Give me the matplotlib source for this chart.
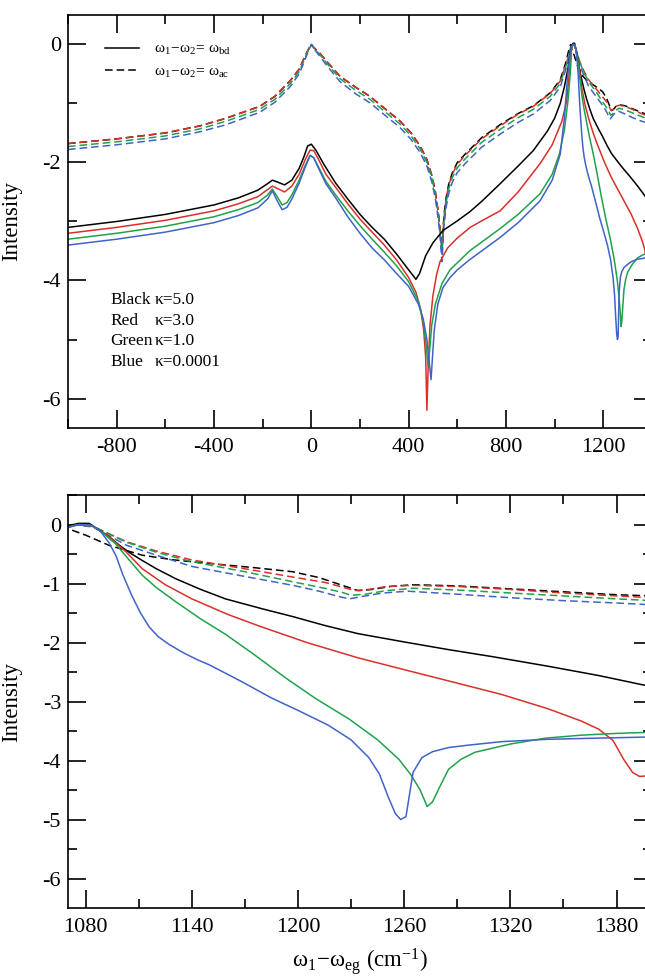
import numpy as np
import matplotlib
matplotlib.use("Agg")
import matplotlib.pyplot as plt

plt.rcParams['font.family'] = ['Liberation Serif', 'DejaVu Serif']
plt.rcParams['mathtext.fontset'] = 'custom'
plt.rcParams['mathtext.rm'] = 'Liberation Serif'
plt.rcParams['mathtext.it'] = 'Liberation Serif'
plt.rcParams['axes.unicode_minus'] = False

# solid curves: w1-w2 = w_bd
bd_black_x = [-1000, -800, -600, -400, -300, -220, -180, -160, -140, -110, -80, -50, -30, -15, 0, 20, 50, 100, 150, 200,
              250, 300, 350, 400, 430, 445, 470, 500, 542, 600, 653, 700, 776, 850, 912, 970, 1000, 1023, 1040, 1055,
              1064, 1070, 1076, 1082, 1088, 1093, 1099, 1105, 1112, 1120, 1131, 1145, 1159, 1180, 1197, 1215, 1234,
              1260, 1285, 1310, 1341, 1370, 1400]
bd_black_y = [-3.1, -3.0, -2.88, -2.72, -2.6, -2.47, -2.36, -2.3, -2.33, -2.38, -2.3, -2.1, -1.9, -1.72, -1.69, -1.8,
              -2.02, -2.35, -2.62, -2.88, -3.1, -3.3, -3.55, -3.82, -3.98, -3.88, -3.58, -3.36, -3.15, -2.99, -2.83,
              -2.66, -2.36, -2.06, -1.8, -1.47, -1.25, -1.0, -0.72, -0.4, -0.15, -0.02, 0.02, 0.02, -0.1, -0.2, -0.35,
              -0.48, -0.61, -0.75, -0.92, -1.1, -1.26, -1.43, -1.56, -1.71, -1.85, -1.99, -2.12, -2.24, -2.4, -2.56,
              -2.75]

bd_red_x = [-1000, -800, -600, -400, -300, -220, -180, -160, -140, -110, -80, -50, -25, -5, 10, 30, 60, 100, 150, 200,
            250, 300, 350, 400, 430, 450, 462, 470, 475, 480, 488, 500, 515, 529, 560, 600, 653, 700, 776, 850, 940,
            990, 1030, 1050, 1062, 1070, 1076, 1084, 1093, 1103, 1112, 1125, 1140, 1160, 1178, 1205, 1234, 1260, 1285,
            1315, 1341, 1360, 1370, 1378, 1384, 1389, 1393, 1397, 1400]
bd_red_y = [-3.2, -3.1, -2.98, -2.82, -2.7, -2.58, -2.46, -2.4, -2.44, -2.5, -2.4, -2.2, -1.95, -1.79, -1.8, -1.95,
            -2.2, -2.42, -2.7, -2.96, -3.18, -3.4, -3.65, -3.95, -4.2, -4.5, -4.85, -5.3, -6.2, -5.5, -4.75, -4.25,
            -3.9, -3.68, -3.45, -3.28, -3.1, -2.99, -2.82, -2.5, -2.02, -1.7, -1.3, -0.95, -0.4, -0.05, 0, -0.03,
            -0.2, -0.47, -0.75, -1.02, -1.26, -1.52, -1.72, -2.0, -2.26, -2.46, -2.65, -2.88, -3.12, -3.33, -3.47,
            -3.66, -3.98, -4.2, -4.27, -4.26, -4.25]

bd_green_x = [-1000, -800, -600, -400, -300, -220, -180, -160, -140, -120, -100, -80, -50, -25, -5, 10, 30, 60, 100,
              150, 200, 250, 300, 350, 400, 440, 460, 472, 480, 486, 495, 510, 537, 570, 600, 650, 700, 776, 850, 940,
              990, 1020, 1040, 1055, 1065, 1070, 1076, 1084, 1090, 1097, 1104, 1112, 1120, 1131, 1145, 1159, 1175, 1193,
              1210, 1229, 1245, 1257, 1264, 1269, 1273, 1276, 1280, 1285, 1292, 1300, 1320, 1340, 1360, 1380, 1400]
bd_green_y = [-3.3, -3.2, -3.08, -2.92, -2.8, -2.68, -2.55, -2.45, -2.58, -2.72, -2.68, -2.55, -2.3, -2.05, -1.88,
              -1.92, -2.08, -2.32, -2.55, -2.82, -3.07, -3.3, -3.52, -3.75, -4.02, -4.35, -4.7, -5.1, -5.45, -5.2,
              -4.75, -4.4, -4.05, -3.82, -3.7, -3.5, -3.35, -3.12, -2.88, -2.53, -2.2, -1.85, -1.45, -0.95, -0.45,
              -0.05, 0, -0.02, -0.15, -0.33, -0.58, -0.86, -1.07, -1.31, -1.6, -1.86, -2.2, -2.6, -2.95, -3.3,
              -3.65, -3.98, -4.25, -4.5, -4.78, -4.7, -4.45, -4.15, -3.98, -3.86, -3.72, -3.62, -3.57, -3.54, -3.52]

bd_blue_x = [-1000, -800, -600, -400, -300, -220, -180, -160, -140, -120, -100, -80, -50, -25, -5, 10, 30, 60, 100,
             150, 200, 250, 300, 350, 400, 440, 460, 475, 485, 492, 498, 505, 520, 541, 570, 600, 650, 700, 776, 850,
             940, 990, 1023, 1040, 1052, 1062, 1070, 1076, 1082, 1088, 1093, 1097, 1101, 1106, 1111, 1116, 1121, 1127,
             1135, 1143, 1150, 1168, 1185, 1200, 1217, 1230, 1240, 1246, 1251, 1255, 1258, 1261, 1265, 1270, 1276,
             1285, 1296, 1315, 1341, 1370, 1400]
bd_blue_y = [-3.4, -3.3, -3.18, -3.02, -2.9, -2.77, -2.62, -2.48, -2.65, -2.8, -2.76, -2.62, -2.35, -2.08, -1.88,
             -1.92, -2.1, -2.36, -2.6, -2.92, -3.2, -3.45, -3.65, -3.88, -4.1, -4.4, -4.65, -5.0, -5.4, -5.68, -5.3,
             -4.85, -4.4, -4.12, -3.95, -3.82, -3.65, -3.5, -3.27, -3.02, -2.65, -2.3, -1.86, -1.25, -0.6, -0.2, -0.04,
             0, 0, -0.1, -0.3, -0.52, -0.85, -1.2, -1.5, -1.74, -1.9, -2.03, -2.17, -2.29, -2.38, -2.66, -2.94, -3.15,
             -3.4, -3.65, -3.95, -4.23, -4.62, -4.9, -5.0, -4.95, -4.2, -3.95, -3.85, -3.78, -3.74, -3.68, -3.64,
             -3.62, -3.6]

# dashed curves: w1-w2 = w_ac
ac_black_x = [-1000, -800, -600, -458, -350, -212, -150, -88, -50, -26, -10, 0, 10, 35, 70, 118, 180, 241, 300, 365,
              410, 447, 475, 496, 510, 521, 530, 537, 545, 554, 565, 579, 600, 632, 700, 776, 850, 912, 982, 1023,
              1045, 1058, 1066, 1070, 1080, 1093, 1112, 1130, 1150, 1175, 1197, 1212, 1225, 1234, 1242, 1252, 1265,
              1290, 1320, 1350, 1380, 1400]
ac_black_y = [-1.68, -1.6, -1.5, -1.38, -1.25, -1.05, -0.88, -0.62, -0.42, -0.2, -0.07, 0, -0.05, -0.15, -0.32, -0.54,
              -0.72, -0.88, -1.08, -1.3, -1.5, -1.72, -1.95, -2.23, -2.5, -2.82, -3.15, -3.45, -2.9, -2.6, -2.36, -2.18,
              -2.0, -1.86, -1.58, -1.36, -1.17, -1.04, -0.82, -0.6, -0.32, -0.1, 0, -0.07, -0.18, -0.35, -0.52, -0.6,
              -0.66, -0.73, -0.8, -0.9, -1.03, -1.12, -1.1, -1.05, -1.02, -1.04, -1.09, -1.14, -1.19, -1.21]

ac_red_x = [-1000, -800, -600, -458, -350, -212, -150, -88, -50, -26, -10, 0, 10, 35, 70, 118, 180, 241, 300, 365,
            410, 447, 475, 496, 510, 521, 530, 537, 545, 554, 565, 579, 600, 632, 700, 776, 850, 912, 982, 1023, 1052,
            1065, 1072, 1084, 1103, 1120, 1140, 1170, 1197, 1215, 1225, 1232, 1240, 1250, 1265, 1290, 1320, 1350,
            1380, 1400]
ac_red_y = [-1.68, -1.6, -1.5, -1.38, -1.25, -1.05, -0.88, -0.62, -0.42, -0.2, -0.07, 0, -0.05, -0.15, -0.32, -0.54,
            -0.72, -0.88, -1.08, -1.3, -1.5, -1.72, -1.95, -2.23, -2.5, -2.82, -3.15, -3.5, -2.95, -2.62, -2.38, -2.2,
            -2.03, -1.88, -1.6, -1.38, -1.18, -1.05, -0.83, -0.62, -0.27, -0.06, 0, -0.03, -0.29, -0.45, -0.6, -0.75,
            -0.89, -0.98, -1.06, -1.12, -1.1, -1.05, -1.03, -1.05, -1.1, -1.16, -1.21, -1.24]

ac_green_x = [-1000, -800, -600, -458, -350, -212, -150, -88, -50, -26, -10, 0, 10, 35, 70, 118, 180, 241, 300, 365,
              410, 447, 475, 496, 510, 521, 530, 537, 545, 554, 565, 579, 600, 632, 700, 776, 850, 912, 982, 1023,
              1052, 1065, 1072, 1084, 1103, 1120, 1140, 1170, 1197, 1215, 1225, 1230, 1238, 1250, 1265, 1290, 1320,
              1350, 1380, 1400]
ac_green_y = [-1.73, -1.65, -1.55, -1.43, -1.3, -1.1, -0.93, -0.67, -0.46, -0.23, -0.08, 0, -0.06, -0.17, -0.35,
              -0.58, -0.77, -0.93, -1.13, -1.35, -1.55, -1.77, -2.0, -2.28, -2.55, -2.87, -3.2, -3.55, -3.0, -2.68,
              -2.44, -2.26, -2.09, -1.94, -1.66, -1.44, -1.24, -1.1, -0.88, -0.66, -0.3, -0.07, 0, -0.03, -0.3, -0.47,
              -0.63, -0.8, -0.97, -1.08, -1.15, -1.2, -1.18, -1.12, -1.08, -1.11, -1.16, -1.21, -1.26, -1.29]

ac_blue_x = [-1000, -800, -600, -458, -350, -212, -150, -88, -50, -26, -10, 0, 10, 35, 70, 118, 180, 241, 300, 365,
             410, 447, 475, 496, 510, 521, 530, 537, 545, 554, 565, 579, 600, 632, 700, 776, 850, 912, 982, 1023, 1052,
             1065, 1072, 1084, 1103, 1120, 1140, 1170, 1197, 1212, 1223, 1229, 1236, 1248, 1262, 1290, 1320, 1350,
             1380, 1400]
ac_blue_y = [-1.78, -1.7, -1.6, -1.48, -1.36, -1.15, -0.98, -0.72, -0.5, -0.26, -0.09, 0, -0.07, -0.2, -0.39, -0.63,
             -0.83, -0.99, -1.19, -1.41, -1.61, -1.83, -2.06, -2.34, -2.62, -2.94, -3.3, -3.68, -3.08, -2.76, -2.52,
             -2.34, -2.17, -2.02, -1.74, -1.52, -1.32, -1.18, -0.95, -0.72, -0.34, -0.09, 0, -0.04, -0.35, -0.52,
             -0.71, -0.88, -1.03, -1.13, -1.22, -1.26, -1.22, -1.16, -1.13, -1.18, -1.24, -1.29, -1.33, -1.36]

kappa_names = ['Black', 'Red', 'Green', 'Blue']
kappa_values = ['5.0', '3.0', '1.0', '0.0001']
colors = ['black', '#d9302a', '#1fa34a', '#4063c8']

solid = [(bd_black_x, bd_black_y), (bd_red_x, bd_red_y), (bd_green_x, bd_green_y), (bd_blue_x, bd_blue_y)]
dashed = [(ac_black_x, ac_black_y), (ac_red_x, ac_red_y), (ac_green_x, ac_green_y), (ac_blue_x, ac_blue_y)]

fig = plt.figure(figsize=(6.45, 9.77), dpi=100)
ax1 = fig.add_axes([0.1054, 0.5619, 0.9054, 0.4228])
ax2 = fig.add_axes([0.1054, 0.0706, 0.9054, 0.4227])


def draw(ax):
    dh = []
    for (x, y), c in zip(dashed, colors):
        h, = ax.plot(x, y, color=c, lw=1.1, dashes=(5, 2.6))
        dh.append(h)
    sh = []
    for (x, y), c in zip(solid, colors):
        h, = ax.plot(x, y, color=c, lw=1.1)
        sh.append(h)
    for s in ax.spines.values():
        s.set_linewidth(1.2)
    ax.tick_params(which='both', direction='in', top=True, right=True, width=1.2, labelsize=16)
    ax.tick_params(which='major', length=13)
    ax.tick_params(which='minor', length=6.5)
    ax.tick_params(axis='x', pad=7)
    ax.tick_params(axis='y', pad=5)
    ax.set_ylim(-6.5, 0.5)
    ax.set_ylabel('Intensity', fontsize=16.5)
    ax.yaxis.set_label_coords(-0.078, 0.5)
    return sh[0], dh[0]


h_solid, h_dash = draw(ax1)
ax1.set_xlim(-1000, 1400)
ax1.set_xticks([-800, -400, 0, 400, 800, 1200])
ax1.set_xticks(np.arange(-1000, 1401, 200), minor=True)
ax1.set_yticks([0, -2, -4, -6])
ax1.set_yticks(np.arange(-6, 1, 1), minor=True)

ax1.legend([h_solid, h_dash],
           [r'$\omega_1\!-\!\omega_2\!=\,\omega_{bd}$', r'$\omega_1\!-\!\omega_2\!=\,\omega_{ac}$'],
           loc='upper left', bbox_to_anchor=(0.053, 0.948), frameon=False, fontsize=11,
           handlelength=2.2, handletextpad=1.0, labelspacing=0.5, borderaxespad=0)

for i, (n, k) in enumerate(zip(kappa_names, kappa_values)):
    yy = 0.31 - i * 0.05
    ax1.text(0.072, yy, n, transform=ax1.transAxes, fontsize=12.5, va='center')
    ax1.text(0.148, yy, '\u03ba=' + k, transform=ax1.transAxes, fontsize=12.5, va='center')

draw(ax2)
ax2.set_xlim(1070, 1400)
ax2.set_xticks([1080, 1140, 1200, 1260, 1320, 1380])
ax2.set_xticks(np.arange(1080, 1401, 30), minor=True)
ax2.set_yticks([0, -1, -2, -3, -4, -5, -6])
ax2.set_yticks(np.arange(-6, 0.6, 0.5), minor=True)
ax2.set_xlabel(r'$\omega_1\!-\!\omega_{eg}$ (cm$^{-1}$)', fontsize=16.5, labelpad=7)

fig.savefig('out.png', dpi=100)
